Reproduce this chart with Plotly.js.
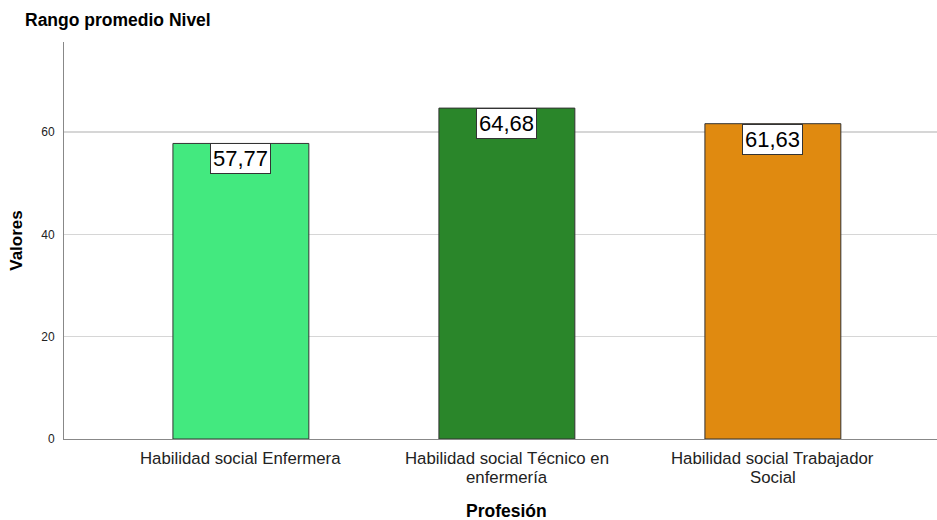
<!DOCTYPE html>
<html>
<head>
<meta charset="utf-8">
<script src="https://cdn.plot.ly/plotly-3.0.1.min.js"></script>
<style>
  html, body { margin: 0; padding: 0; background: #fff; }
  #chart { width: 937px; height: 520px; }
</style>
</head>
<body>
<div id="chart"></div>
<script>
// Mean rank of the level, by profession
const categories = [
  "Habilidad social Enfermera",
  "Habilidad social Técnico en<br>enfermería",
  "Habilidad social Trabajador<br>Social"
];
const values = [57.77, 64.68, 61.63];
const barColors = ["#43e97f", "#2a862a", "#e08a10"];
const yTicks = [0, 20, 40, 60];

const FONT = "Liberation Sans, Arial, sans-serif";

// Spanish number format: comma as decimal separator
const fmt = v => v.toFixed(2).replace(".", ",");

const trace = {
  type: "bar",
  x: categories,
  y: values,
  width: 0.511,
  marker: {
    color: barColors,
    line: { color: "#333333", width: 1 }
  },
  hoverinfo: "skip"
};

// Boxed value labels sitting inside the top of each bar
const valueLabels = categories.map((c, i) => ({
  x: c,
  y: values[i],
  xref: "x",
  yref: "y",
  text: fmt(values[i]),
  showarrow: false,
  yanchor: "top",
  xanchor: "center",
  bgcolor: "#ffffff",
  bordercolor: "#333333",
  borderwidth: 1,
  borderpad: 2,
  font: { family: FONT, size: 22, color: "#000" }
}));

// Category labels, one line at a time for tighter line spacing
const LINE_GAP = 19;
const categoryLabels = [];
categories.forEach(c => {
  c.split("<br>").forEach((line, k) => {
    categoryLabels.push({
      x: c,
      xref: "x",
      y: 0,
      yref: "paper",
      yshift: -(19 + k * LINE_GAP),
      text: line,
      showarrow: false,
      xanchor: "center",
      yanchor: "middle",
      font: { family: FONT, size: 16.8, color: "#222" }
    });
  });
});

const layout = {
  width: 937,
  height: 520,
  margin: { l: 64, r: 0, t: 42, b: 81 },
  paper_bgcolor: "#ffffff",
  plot_bgcolor: "#ffffff",
  showlegend: false,
  bargap: 0,
  font: { family: FONT, color: "#222" },
  title: {
    text: "<b>Rango promedio Nivel</b>",
    x: 0, xref: "container", xanchor: "left",
    y: 1, yref: "container", yanchor: "top",
    pad: { l: 25, t: 14 },
    font: { family: FONT, size: 17.5, color: "#000" }
  },
  xaxis: {
    type: "category",
    range: [-0.665, 2.617],
    showgrid: false,
    showline: true,
    linecolor: "#888888",
    linewidth: 1,
    ticks: "",
    showticklabels: false,
    zeroline: false,
    fixedrange: true
  },
  yaxis: {
    range: [0, 77.6],
    tickvals: yTicks,
    ticktext: yTicks.map(String),
    showgrid: true,
    gridcolor: "#d6d6d6",
    gridwidth: 1.5,
    showline: true,
    linecolor: "#888888",
    linewidth: 1,
    ticks: "",
    ticklabelstandoff: 6,
    tickfont: { family: FONT, size: 12, color: "#222" },
    zeroline: false,
    title: {
      text: "<b>Valores</b>",
      standoff: 14,
      font: { family: FONT, size: 17, color: "#000" }
    },
    fixedrange: true
  },
  annotations: valueLabels.concat(categoryLabels, [{
    text: "<b>Profesión</b>",
    x: categories[1],
    xref: "x",
    y: 0,
    yref: "paper",
    yshift: -72,
    height: 18,
    xanchor: "center",
    yanchor: "middle",
    showarrow: false,
    font: { family: FONT, size: 17.5, color: "#000" }
  }])
};

Plotly.newPlot("chart", [trace], layout, { staticPlot: true, displayModeBar: false });
</script>
</body>
</html>
